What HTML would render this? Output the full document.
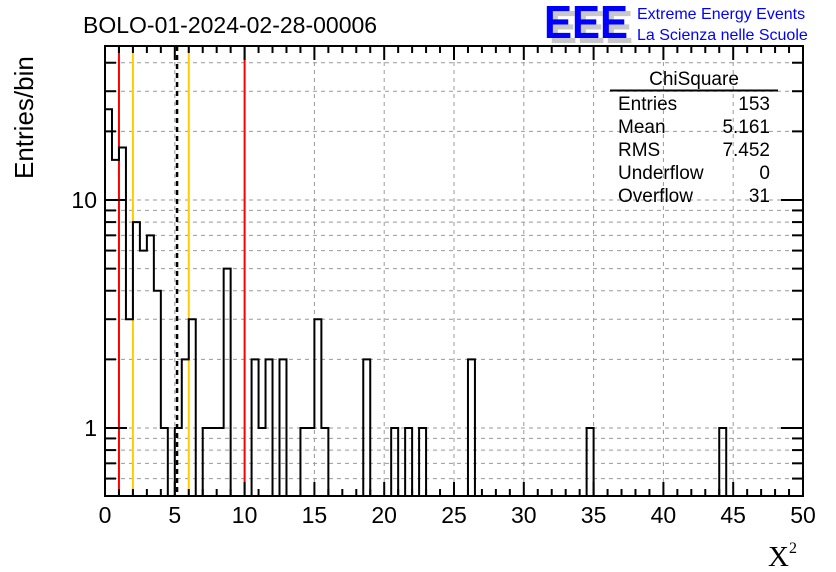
<!DOCTYPE html>
<html><head><meta charset="utf-8"><style>
body{margin:0;background:#fff;}
svg{display:block;font-family:"Liberation Sans",sans-serif;}
</style></head><body>
<svg id="chart" width="836" height="572" viewBox="0 0 836 572" xmlns="http://www.w3.org/2000/svg">
<rect width="836" height="572" fill="#fff"/>
<g id="grid"></g>
<g id="lines"></g>
<g id="hist"></g>
<g id="axes"></g>
<text x="83" y="33" font-size="23">BOLO-01-2024-02-28-00006</text>
<text transform="translate(33,179) rotate(-90)" font-size="26">Entries/bin</text>
<text x="768" y="566" font-size="29" font-family="Liberation Serif,serif">X<tspan font-size="16" dy="-13">2</tspan></text>
<g>
<text x="549" y="43" font-size="46" font-weight="bold" fill="#c8c8c8" textLength="84" lengthAdjust="spacingAndGlyphs">EEE</text>
<text x="544" y="38" font-size="46" font-weight="bold" fill="#0000ff" textLength="84" lengthAdjust="spacingAndGlyphs">EEE</text>
<text x="637" y="19" font-size="16" fill="#0000ff">Extreme Energy Events</text>
<text x="637" y="40" font-size="16" fill="#0000ff">La Scienza nelle Scuole</text>
</g>
<g font-size="19">
<text x="694" y="85" text-anchor="middle">ChiSquare</text>
<line x1="610" y1="90.5" x2="778" y2="90.5" stroke="#000" stroke-width="2"/>
<text x="618" y="110">Entries</text><text x="770" y="110" text-anchor="end">153</text>
<text x="618" y="133">Mean</text><text x="770" y="133" text-anchor="end">5.161</text>
<text x="618" y="156">RMS</text><text x="770" y="156" text-anchor="end">7.452</text>
<text x="618" y="179">Underflow</text><text x="770" y="179" text-anchor="end">0</text>
<text x="618" y="202">Overflow</text><text x="770" y="202" text-anchor="end">31</text>
</g>
</svg>
<script>
const binWidth = 0.5;
const counts = [25,15,17,3,8,6,7,4,1,0,1,2,3,0,1,1,1,5,0,0,0,2,1,2,0,2,0,0,1,1,3,1,0,0,0,0,0,2,0,0,0,1,0,1,0,1,0,0,0,0,0,0,2,0,0,0,0,0,0,0,0,0,0,0,0,0,0,0,0,1,0,0,0,0,0,0,0,0,0,0,0,0,0,0,0,0,0,0,1,0,0,0,0,0,0,0,0,0,0,0];
const xTicks = [0,5,10,15,20,25,30,35,40,45,50];
const yTickLabels = [1,10];
const refLinesRed = [1,10];
const refLinesOrange = [2,6];
const meanValue = 5.161;

const L=105,R=803,T=46,B=496;
const xmin=0,xmax=50;
const decade=228, yOne=428;
const X=v=>L+(v-xmin)/(xmax-xmin)*(R-L);
const Y=v=>yOne-Math.log10(v)*decade;
const ymin=Math.pow(10,(yOne-B)/decade), ymax=Math.pow(10,(yOne-T)/decade);
const NS="http://www.w3.org/2000/svg";
function mk(tag,attrs,parent){const e=document.createElementNS(NS,tag);for(const k in attrs)e.setAttribute(k,attrs[k]);parent.appendChild(e);return e;}
const grid=document.getElementById('grid'),lines=document.getElementById('lines'),hist=document.getElementById('hist'),axes=document.getElementById('axes');

xTicks.forEach(t=>{if(t>xmin&&t<xmax){const g=mk('line',{x1:X(t),x2:X(t),y1:T,y2:B,stroke:'#999','stroke-dasharray':'4,4','stroke-width':1},grid);

}});
const yMinor=[];
for(let d=-1;d<=1;d++)for(let m=1;m<10;m++){const v=m*Math.pow(10,d);if(v>ymin&&v<ymax)yMinor.push(v);}
yMinor.forEach(v=>{const g=mk('line',{x1:L,x2:R,y1:Y(v),y2:Y(v),stroke:'#999','stroke-dasharray':'4,4','stroke-width':1},grid);

});

refLinesRed.forEach(v=>{const l=mk('line',{x1:X(v),x2:X(v),y1:T,y2:B,stroke:'#ff0000','stroke-width':2},lines);

});
refLinesOrange.forEach(v=>{const l=mk('line',{x1:X(v),x2:X(v),y1:T,y2:B,stroke:'#ffcc00','stroke-width':2},lines);

});
const ml=mk('line',{x1:X(meanValue),x2:X(meanValue),y1:T,y2:B,stroke:'#000','stroke-width':2.5,'stroke-dasharray':'5,4'},lines);



let d='';
d+='M'+X(0)+','+B;
counts.forEach((c,i)=>{const x0=X(i*binWidth),x1=X((i+1)*binWidth);const y=c>0?Math.max(T,Y(c)):B;
d+=' L'+x0+','+y+' L'+x1+','+y;});
d+=' L'+X(counts.length*binWidth)+','+B;
const hp=mk('path',{d:d,fill:'none',stroke:'#000','stroke-width':2},hist);



const fr=mk('rect',{x:L,y:T,width:R-L,height:B-T,fill:'none',stroke:'#000','stroke-width':2},axes);


for(let v=xmin;v<=xmax;v+=1){const major=v%5===0;const len=major?14:7;
mk('line',{x1:X(v),x2:X(v),y1:B,y2:B-len,stroke:'#000','stroke-width':2},axes);
mk('line',{x1:X(v),x2:X(v),y1:T,y2:T+len,stroke:'#000','stroke-width':2},axes);}
xTicks.forEach(t=>{const tx=mk('text',{x:X(t),y:523,'font-size':23,'text-anchor':'middle'},axes);tx.textContent=t;

});
yMinor.forEach(v=>{const major=[1,10].includes(v);const len=major?22:11;
mk('line',{x1:L,x2:L+len,y1:Y(v),y2:Y(v),stroke:'#000','stroke-width':2},axes);
mk('line',{x1:R,x2:R-len,y1:Y(v),y2:Y(v),stroke:'#000','stroke-width':2},axes);});
yTickLabels.forEach(v=>{const tx=mk('text',{x:L-8,y:Y(v)+8,'font-size':23,'text-anchor':'end'},axes);tx.textContent=v;

});
</script>
</body></html>
